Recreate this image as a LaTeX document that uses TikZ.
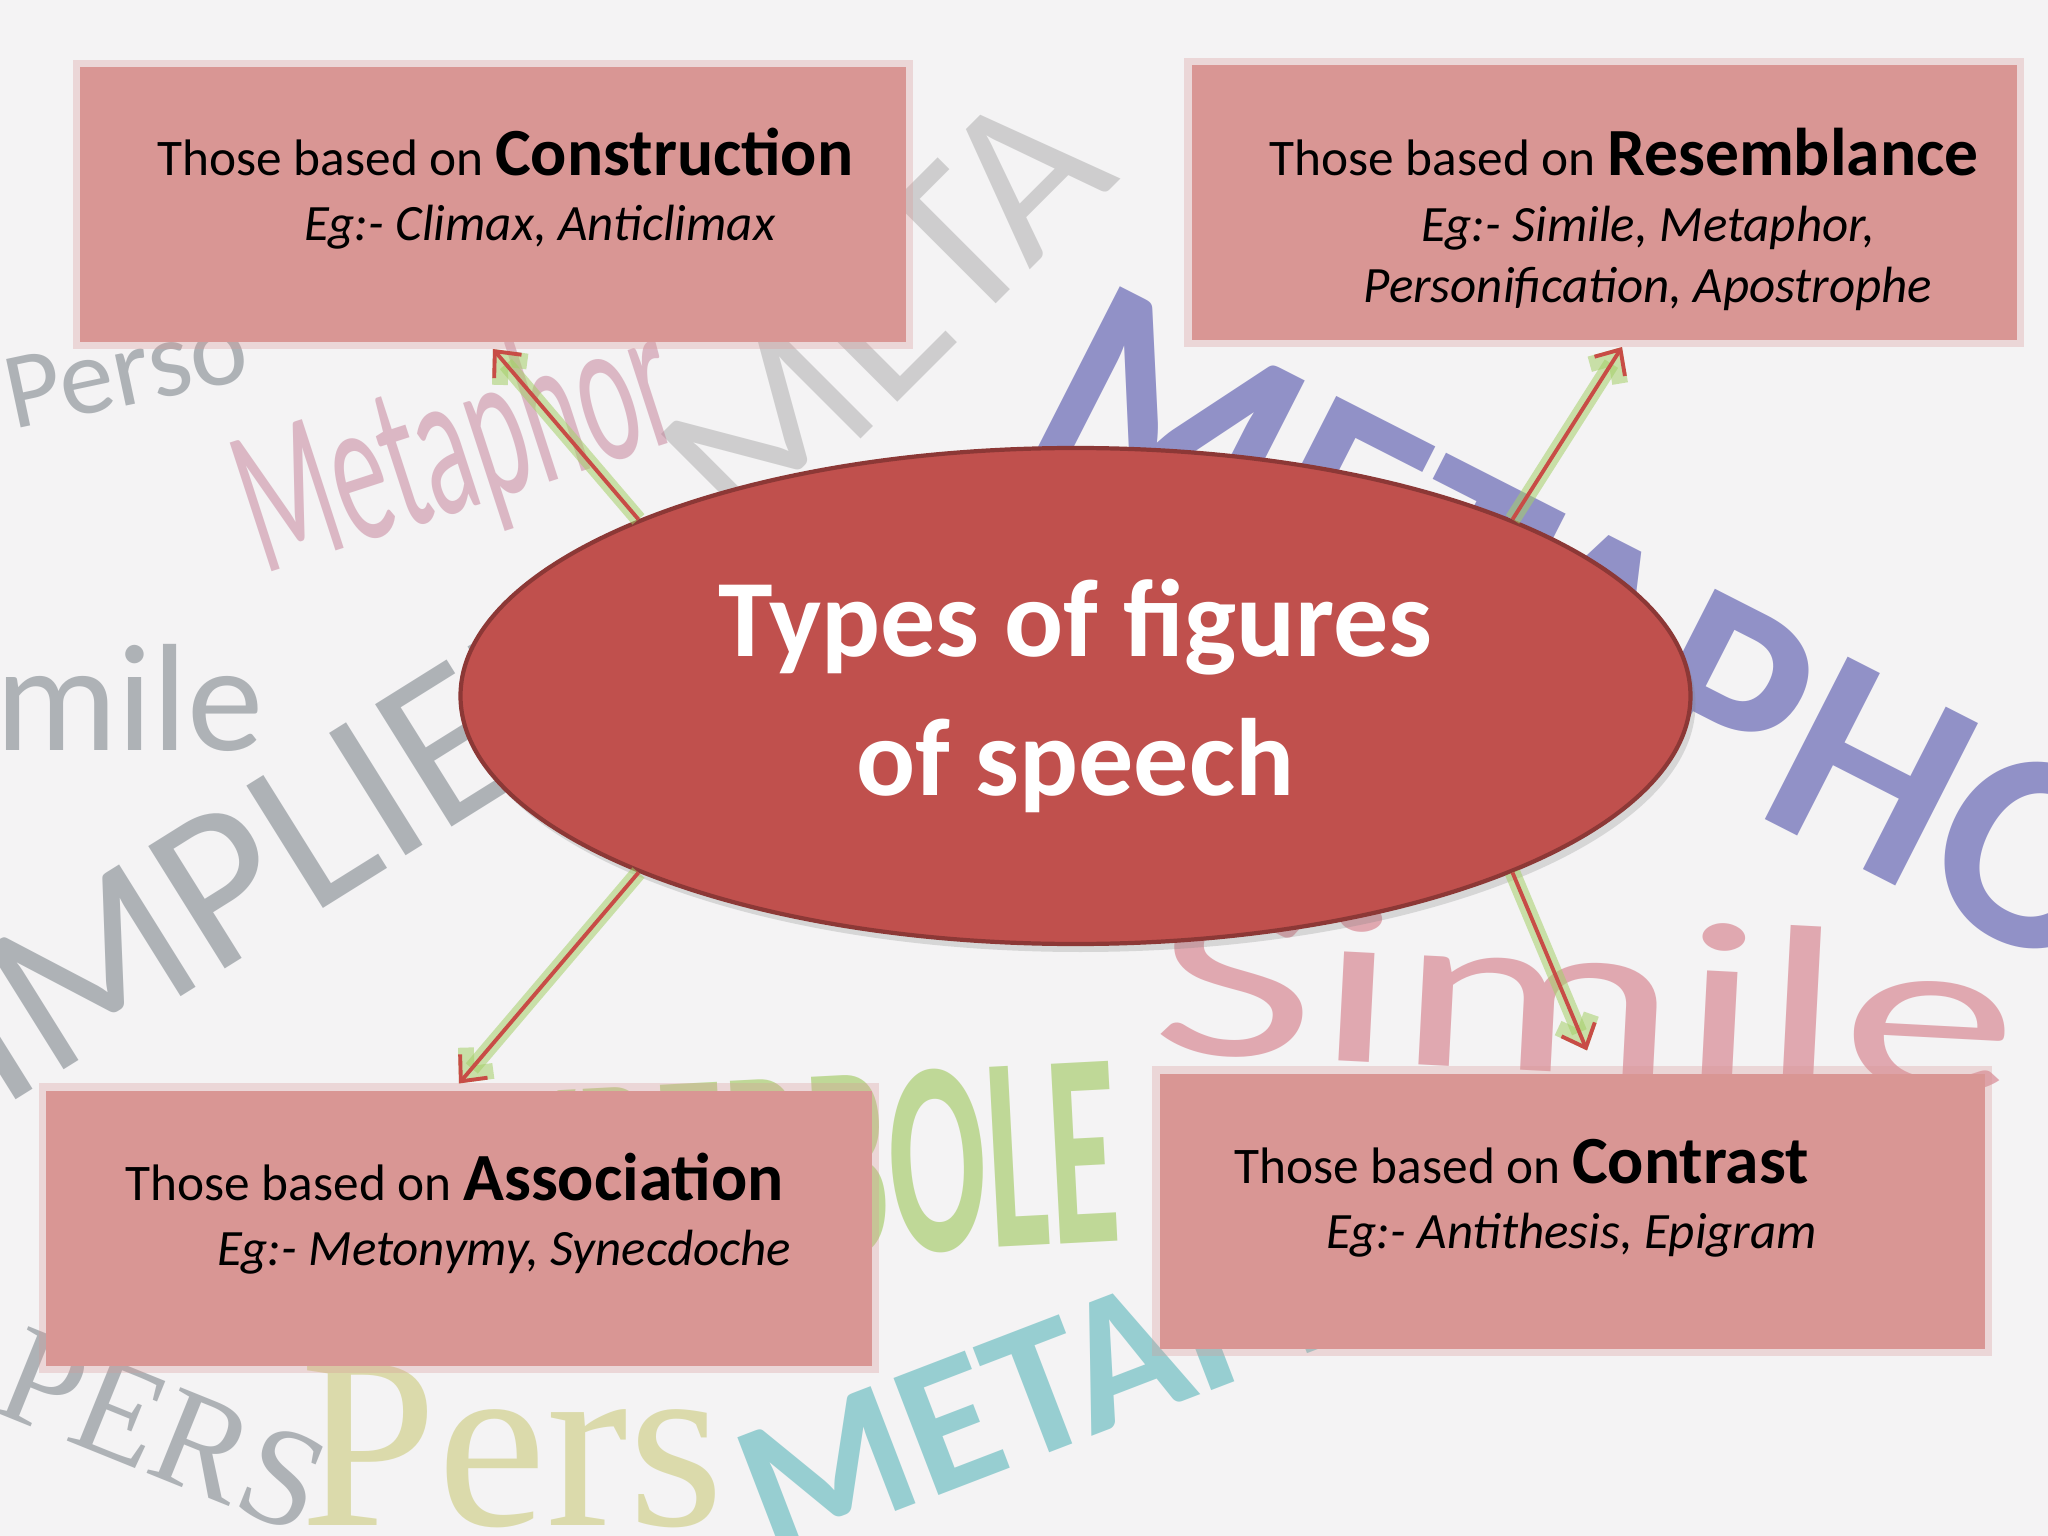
\documentclass[tikz,border=0pt]{standalone}
\usepackage{fontspec}
\setmainfont{Carlito}
\newfontfamily\serifwords{Liberation Serif}
\newfontfamily\narrowwords[FakeStretch=0.52]{Carlito}
\newfontfamily\widewords[FakeStretch=1.55]{Carlito}
\usetikzlibrary{shapes.geometric,arrows.meta,shadows}

\definecolor{paper}{RGB}{244,243,244}
\definecolor{boxpink}{RGB}{217,150,148}
\definecolor{hubred}{RGB}{192,80,77}
\definecolor{hubedge}{RGB}{140,56,54}
\definecolor{linkred}{RGB}{200,76,70}
\definecolor{glowgreen}{RGB}{165,208,105}
\definecolor{wordgrey}{RGB}{105,115,122}
\definecolor{wordlight}{RGB}{150,150,150}
\definecolor{wordmauve}{RGB}{195,125,150}
\definecolor{wordblue}{RGB}{80,80,170}
\definecolor{wordrose}{RGB}{205,95,110}
\definecolor{wordgreen}{RGB}{140,190,60}
\definecolor{wordolive}{RGB}{195,195,100}
\definecolor{wordteal}{RGB}{60,170,175}

\newcommand\kindword[1]{{\fontsize{19.2}{23}\selectfont\bfseries #1}}

\tikzset{
  typebox/.style={rectangle, fill=boxpink, draw=boxpink, draw opacity=0.3,
    line width=4pt, minimum width=8.25cm, minimum height=2.75cm, inner sep=0pt},
  lead/.style={anchor=base west, inner sep=0pt, font=\fontsize{14.6}{17}\selectfont},
  example/.style={anchor=base west, inner sep=0pt, font=\fontsize{14.5}{17}\selectfont\itshape},
  hub/.style={ellipse, fill=hubred, draw=hubedge, line width=1.2pt,
    minimum width=12.3cm, minimum height=4.96cm, inner sep=0pt, align=center,
    text=white, font=\fontsize{31.3}{39.5}\selectfont\bfseries,
    drop shadow={opacity=0.25, shadow xshift=0.05cm, shadow yshift=-0.08cm}},
  link/.style={draw=linkred, line width=1.1pt, -{Straight Barb[length=2mm,width=3.6mm]},
    preaction={draw=glowgreen, draw opacity=0.55, line width=4.5pt}},
  bgword/.style={inner sep=0pt, anchor=base west, opacity=0.5}
}

\begin{document}
\begin{tikzpicture}
  \useasboundingbox (0,0) rectangle (20.48,-15.36);
  \fill[paper] (0,0) rectangle (20.48,-15.36);

  % words in the background
  \node[bgword, text=wordlight, opacity=0.4, rotate=45, font=\fontsize{64}{64}\selectfont] (bg1) at (7.5,-5.5) {META};
  \node[bgword, text=wordblue, opacity=0.6, rotate=-27, font=\fontsize{80}{80}\selectfont\bfseries] (bg2) at (10.2,-4.4) {METAPHOR};
  \node[bgword, text=wordgrey, rotate=12, font=\fontsize{31}{31}\selectfont] (bg3) at (0.13,-4.3) {Perso};
  \node[bgword, text=wordmauve, rotate=18, font=\fontsize{60}{60}\narrowwords] (bg4) at (2.63,-5.75) {Metaphor};
  \node[bgword, text=wordgrey, font=\fontsize{43.5}{44}\selectfont] (bg5) at (-0.05,-7.51) {mile};
  \node[bgword, text=wordgrey, rotate=32, font=\fontsize{64}{64}\selectfont] (bg6) at (0,-11.1) {IMPLIED};
  \node[bgword, text=wordrose, rotate=-3, font=\fontsize{65}{65}\widewords] (bg7) at (11.5,-10.51) {Simile};
  \node[bgword, text=wordgreen, anchor=base east, rotate=3, font=\fontsize{79}{79}\narrowwords\bfseries] (bg8) at (11.23,-12.41) {HYPERBOLE};
  \node[bgword, text=wordteal, rotate=21, font=\fontsize{55}{55}\selectfont\bfseries] (bg9) at (7.7,-15.6) {METAPHOR};
  \node[bgword, text=wordgrey, rotate=-22, font=\fontsize{40}{40}\serifwords] (bg10) at (-0.1,-14.1) {PERS};
  \node[bgword, text=wordolive, font=\fontsize{70}{70}\serifwords] (bg11) at (3.0,-15.25) {Pers};

  % boxes
  \node[typebox] (cons) at (4.93,-2.045) {};
  \node[typebox] (res) at (16.04,-2.025) {};
  \node[typebox] (asso) at (4.59,-12.28) {};
  \node[typebox] (contr) at (15.72,-12.11) {};

  % texts of the boxes
  \node[lead] (cons1) at ([shift={(-3.36,0.285)}]cons.center) {Those based on \kindword{Construction}};
  \node[example] (cons2) at ([shift={(-1.89,-0.365)}]cons.center) {Eg:- Climax, Anticlimax};
  \node[lead] (res1) at ([shift={(-3.35,0.265)}]res.center) {Those based on \kindword{Resemblance}};
  \node[example] (res2) at ([shift={(-1.83,-0.395)}]res.center) {Eg:- Simile, Metaphor,};
  \node[example] (res3) at ([shift={(-2.41,-1.005)}]res.center) {Personification, Apostrophe};
  \node[lead] (asso1) at ([shift={(-3.34,0.28)}]asso.center) {Those based on \kindword{Association}};
  \node[example] (asso2) at ([shift={(-2.42,-0.37)}]asso.center) {Eg:- Metonymy, Synecdoche};
  \node[lead] (contr1) at ([shift={(-3.38,0.28)}]contr.center) {Those based on \kindword{Contrast}};
  \node[example] (contr2) at ([shift={(-2.46,-0.37)}]contr.center) {Eg:- Antithesis, Epigram};

  % centre
  \node[hub] (types) at (10.755,-6.96) {Types of figures\\of speech};

  % arrows
  \draw[link] (types.158) -- (cons.south);
  \draw[link] (types.22) -- ([xshift=0.18cm]res.south);
  \draw[link] (types.202) -- (asso.north);
  \draw[link] (types.338) -- ([shift={(0.15cm,0.16cm)}]contr.north);
\end{tikzpicture}
\end{document}
